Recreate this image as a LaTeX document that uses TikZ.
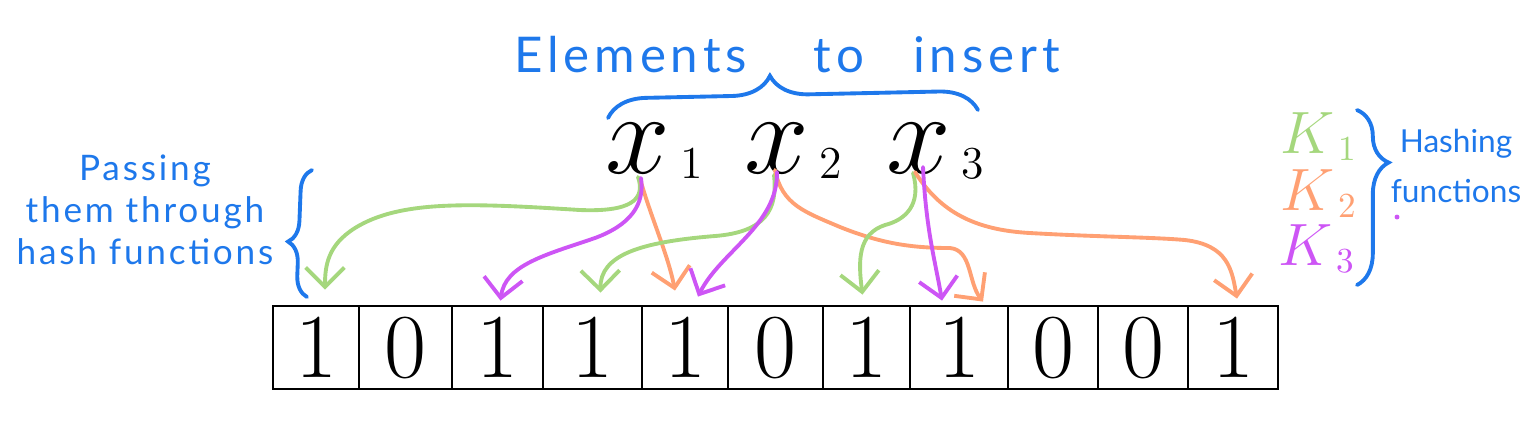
\RequirePackage{fix-cm}
\documentclass[tikz,border=0pt]{standalone}
\usepackage{fontspec}
\usepackage{tikz}
\usetikzlibrary{arrows.meta, calc, decorations.pathreplacing}
\newfontfamily\handfont{Lato}
\definecolor{penblue}{RGB}{30, 120, 235}
\definecolor{hashgreen}{RGB}{165, 215, 125}
\definecolor{hashorange}{RGB}{255, 160, 115}
\definecolor{hashpurple}{RGB}{205, 85, 245}

% element x_i and hash function K_i with a small lowered index
\newcommand{\elem}[1]{$x$\kern3pt\raisebox{-1.5pt}{\fontsize{13}{13}\selectfont #1}}
\newcommand{\hfun}[1]{$K$\kern1pt\raisebox{-2pt}{\fontsize{10}{10}\selectfont #1}}

\begin{document}
\begin{tikzpicture}[x=0.01cm, y=-0.01cm,
    cellbox/.style={draw, line width=0.8pt, minimum height=0.83cm, inner sep=0pt, font=\fontsize{26}{26}\selectfont\addfontfeature{FakeBold=2}},
    elemnode/.style={inner sep=0pt, anchor=base, font=\fontsize{33}{33}\selectfont},
    hashnode/.style={inner sep=0pt, anchor=base, font=\fontsize{17}{17}\selectfont},
    pentext/.style={text=penblue, align=center, inner sep=0pt},
    hasharrow/.style={line width=1.1pt, line cap=round, -{Straight Barb[length=5.5pt, width=11pt]}},
    penbrace/.style={draw=penblue, line width=1.1pt, line cap=round, decorate}]

    \useasboundingbox (0,0) rectangle (1536,444);

    % Bit array
    \foreach \i/\l/\r/\v in {1/273/359/1, 2/359/452/0, 3/452/543/1, 4/543/642/1, 5/642/728/1, 6/728/823/0,
                             7/823/910/1, 8/910/1008/1, 9/1008/1098/0, 10/1098/1188/0, 11/1188/1278/1}
        \node[cellbox, minimum width={(\r-\l)*0.01cm}] (c\i) at ({(\l+\r)/2}, 347.5) {\v};

    % Elements
    \node[elemnode] (x1) at (654,173) {\elem{1}};
    \node[elemnode] (x2) at (793,173) {\elem{2}};
    \node[elemnode] (x3) at (935,173) {\elem{3}};

    \node[pentext, font=\handfont\fontsize{14}{14}\selectfont\addfontfeature{LetterSpace=10}] (title) at (787,55)
        {Elements\hspace{14pt} to\hspace{9pt} insert};
    \draw[penbrace, decoration={brace, amplitude=11pt, aspect=0.44}] (608,118) -- (978,110);

    % Left note
    \node[pentext, font=\handfont\fontsize{10}{12}\selectfont\addfontfeature{LetterSpace=8}] (passing) at (145,210)
        {Passing\\them through\\hash functions};
    \draw[penbrace, decoration={brace, amplitude=6pt, aspect=0.43}] (307,297) -- (312,170);

    % Hash functions
    \node[hashnode, text=hashgreen] (k1) at (1318,153) {\hfun{1}};
    \node[hashnode, text=hashorange] (k2) at (1318,210) {\hfun{2}};
    \node[hashnode, text=hashpurple] (k3) at (1316,265) {\hfun{3}};
    \draw[penbrace, decoration={brace, amplitude=9pt, aspect=0.3}] (1357,110) -- (1357,285);
    \node[pentext, font=\handfont\fontsize{9}{14}\selectfont] (hashing) at (1456,166) {Hashing\\functions};
    \fill[hashpurple] (1397,217) circle (0.7pt);

    % x1
    \draw[hasharrow, hashgreen] ($(x1.base)+(-16,4)$) .. controls (646,200) and (630,212) .. (580,210)
        .. controls (470,203) and (400,200) .. (355,228) .. controls (328,245) and (325,265) .. ($(c1.north)+(9,-15)$);
    \draw[hasharrow, hashorange] ($(x1.base)+(-13,9)$) .. controls (652,220) and (668,255) .. ($(c5.north)+(-10,-14)$);
    \draw[hasharrow, hashpurple] ($(x1.base)+(-13,5)$) .. controls (645,205) and (630,225) .. (595,238)
        .. controls (545,255) and (505,265) .. ($(c3.north)+(3,-4)$);

    % x2
    \draw[hasharrow, hashgreen] ($(x2.base)+(-19,2)$) .. controls (778,210) and (765,232) .. (715,236)
        .. controls (640,242) and (600,255) .. ($(c4.north)+(8,-12)$);
    \draw[hasharrow, hashorange] ($(x2.base)+(-18,-3)$) .. controls (782,205) and (805,212) .. (840,227)
        .. controls (880,243) and (910,248) .. (950,248) .. controls (972,250) and (968,282) .. ($(c8.north)+(24,-3)$);
    \draw[hasharrow, hashpurple] ($(x2.base)+(-16,-1)$) .. controls (778,225) and (720,252) .. ($(c5.north)+(13,-8)$);

    % x3
    \draw[hasharrow, hashgreen] ($(x3.base)+(-22,0)$) .. controls (922,205) and (905,220) .. (885,225)
        .. controls (858,234) and (858,260) .. ($(c7.north)+(-4,-10)$);
    \draw[hasharrow, hashorange] ($(x3.base)+(-20,-1)$) .. controls (940,212) and (975,230) .. (1030,233)
        .. controls (1100,237) and (1150,237) .. (1185,240) .. controls (1228,245) and (1232,270) .. ($(c11.north)+(4,-6)$);
    \draw[hasharrow, hashpurple] ($(x3.base)+(-12,-6)$) .. controls (926,230) and (935,260) .. ($(c8.north)+(-17,-4)$);

\end{tikzpicture}
\end{document}
